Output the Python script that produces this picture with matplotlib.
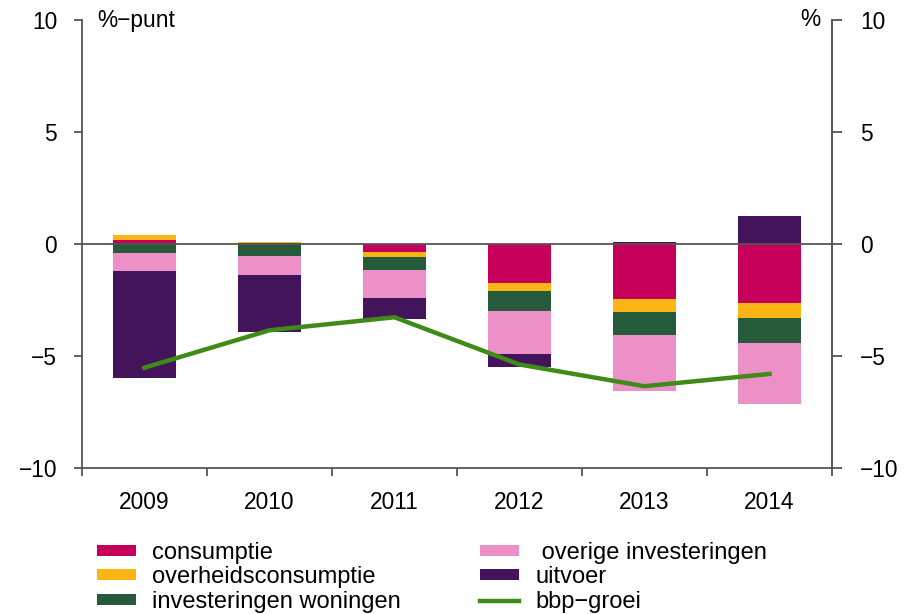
import matplotlib
matplotlib.use("Agg")
import matplotlib.pyplot as plt
import numpy as np
from matplotlib.patches import Patch
from matplotlib.lines import Line2D

plt.rcParams['font.family'] = ['Liberation Sans', 'DejaVu Sans']

years = ['2009', '2010', '2011', '2012', '2013', '2014']
series_names = ['consumptie', 'overheidsconsumptie', 'investeringen woningen',
                ' overige investeringen', 'uitvoer']
consumptie = [0.17, 0.04, -0.37, -1.74, -2.48, -2.63]
overheidsconsumptie = [0.23, 0.03, -0.23, -0.35, -0.57, -0.67]
investeringen_woningen = [-0.42, -0.54, -0.57, -0.89, -1.01, -1.14]
overige_investeringen = [-0.78, -0.86, -1.23, -1.93, -2.53, -2.73]
uitvoer = [-4.78, -2.54, -0.95, -0.60, 0.10, 1.24]
bbp_groei = [-5.53, -3.86, -3.28, -5.39, -6.36, -5.81]
line_name = 'bbp\u2212groei'

colors = ['#C6005A', '#FDB515', '#255B3B', '#EE90C8', '#43145B']
line_color = '#3E8C17'
axis_color = '#555555'

fig = plt.figure(figsize=(9.06, 6.14), dpi=100)
ax = fig.add_axes([82/906, 1-467.7/614, 750/906, (467.7-20)/614])

x = np.arange(len(years))
series = [consumptie, overheidsconsumptie, investeringen_woningen,
          overige_investeringen, uitvoer]
pos = np.zeros(len(years))
neg = np.zeros(len(years))
for vals, c in zip(series, colors):
    v = np.array(vals, dtype=float)
    p = np.where(v > 0, v, 0)
    n = np.where(v < 0, v, 0)
    ax.bar(x, p, bottom=pos, width=0.5, color=c, linewidth=0)
    ax.bar(x, n, bottom=neg, width=0.5, color=c, linewidth=0)
    pos += p
    neg += n

ax.axhline(0, color=axis_color, linewidth=1.3, zorder=1)
ax.plot(x, bbp_groei, color=line_color, linewidth=3.2, zorder=5)

ax.set_xlim(-0.5, len(years) - 0.5)
ax.set_ylim(-10, 10)

ax.spines['top'].set_visible(False)
for s in ['left', 'right', 'bottom']:
    ax.spines[s].set_color(axis_color)
    ax.spines[s].set_linewidth(1.3)

ax.set_xticks(np.arange(-0.5, len(years), 1.0))
ax.set_xticklabels([])
ax.set_xticks(x, minor=True)
ax.set_xticklabels(years, minor=True)
ax.tick_params(axis='x', which='major', length=6, width=1.3, color=axis_color, direction='out')
ax.tick_params(axis='x', which='minor', length=0, pad=17, labelsize=16.4)

yt = [-10, -5, 0, 5, 10]
ax.set_yticks(yt)
ax.set_yticklabels([str(v).replace('-', '\u2212') for v in yt])
ax.tick_params(axis='y', which='major', length=6, width=1.3, color=axis_color,
               direction='out', labelsize=16.4, pad=12, left=True, right=False)

ax2 = ax.twinx()
ax2.set_ylim(-10, 10)
ax2.set_yticks(yt)
ax2.set_yticklabels([str(v).replace('-', '\u2212') for v in yt])
ax2.tick_params(axis='y', length=7, width=1.3, color=axis_color, direction='out',
                labelsize=16.4, pad=13)
for s in ['top', 'left', 'bottom']:
    ax2.spines[s].set_visible(False)
ax2.spines['right'].set_color(axis_color)
ax2.spines['right'].set_linewidth(1.3)

ax.text(0.021, 1.0, '%\u2212punt', transform=ax.transAxes, ha='left', va='center', fontsize=16.4)
ax.text(0.984, 1.0, '%', transform=ax.transAxes, ha='right', va='center', fontsize=16.4)

h1 = [Patch(facecolor=colors[i], edgecolor='none', label=series_names[i]) for i in range(3)]
h2 = [Patch(facecolor=colors[i], edgecolor='none', label=series_names[i]) for i in range(3, 5)]
h2.append(Line2D([0], [0], color=line_color, linewidth=3.2, label=line_name))

common = dict(frameon=False, fontsize=17, handlelength=1.65, handleheight=0.35,
              handletextpad=0.7, labelspacing=0.1, borderpad=0, borderaxespad=0,
              loc='upper left')
leg1 = fig.legend(handles=h1, bbox_to_anchor=(97/906, 1-542/614), **common)
leg2 = fig.legend(handles=h2, bbox_to_anchor=(480/906, 1-542/614), **common)

fig.savefig('out.png', dpi=100)
